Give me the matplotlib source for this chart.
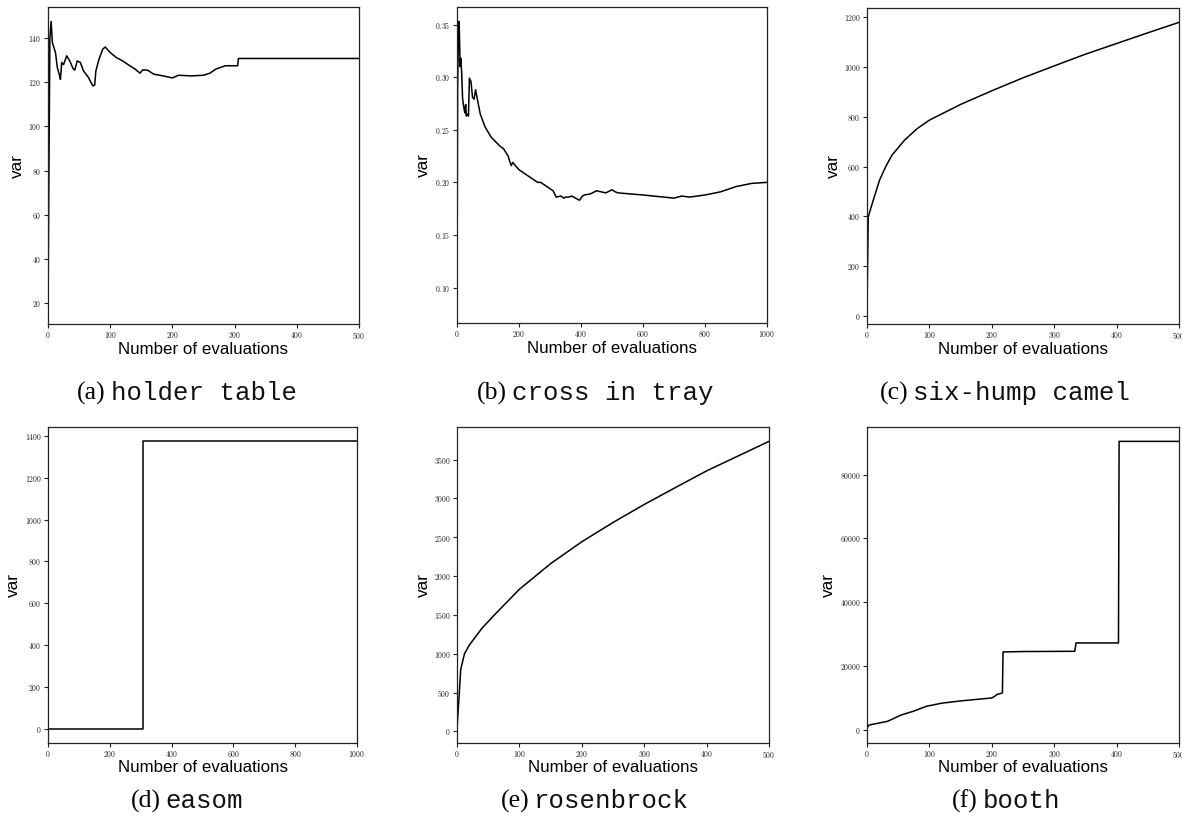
import matplotlib
matplotlib.use("Agg")
import matplotlib.pyplot as plt
from matplotlib.ticker import FuncFormatter

plt.rcParams["mathtext.fontset"] = "cm"

# ---- data: running variance per benchmark ----
holder_x = [0, 1, 3, 5, 7, 12, 15, 19, 20, 22, 25, 30, 35, 40, 43, 47, 52, 57, 65, 72, 75, 77,
            82, 88, 92, 100, 110, 120, 130, 140, 148, 152, 160, 170, 185, 200, 210, 230, 250,
            260, 270, 285, 305, 306, 500]
holder_y = [17, 60, 140, 147.6, 138, 133.5, 126.7, 122.6, 121.3, 129, 128, 132, 129.7, 126.4,
            125.5, 129.7, 129, 125.2, 122.2, 118.4, 118.7, 125.2, 130.5, 135, 136, 133.5, 131.2,
            129.7, 127.8, 126, 124.1, 125.6, 125.5, 123.7, 122.9, 122, 123.2, 122.9, 123.2,
            124.1, 126, 127.5, 127.5, 130.8, 130.8]

cross_x = [0, 2, 4, 7, 10, 12, 15, 18, 20, 25, 28, 30, 32, 37, 40, 45, 50, 55, 60, 65, 75, 90,
           110, 120, 130, 140, 150, 165, 170, 175, 180, 185, 200, 215, 230, 260, 270, 300, 310,
           320, 335, 345, 350, 360, 370, 395, 405, 410, 430, 450, 480, 500, 510, 520, 600, 700,
           725, 750, 800, 850, 900, 950, 1000]
cross_y = [0.080, 0.29, 0.33, 0.353, 0.31, 0.318, 0.305, 0.28, 0.275, 0.266, 0.274, 0.263, 0.265,
           0.263, 0.299, 0.296, 0.281, 0.279, 0.288, 0.28, 0.265, 0.253, 0.243, 0.240, 0.237,
           0.234, 0.232, 0.225, 0.22, 0.216, 0.219, 0.217, 0.212, 0.209, 0.206, 0.200, 0.200,
           0.194, 0.192, 0.186, 0.187, 0.185, 0.186, 0.186, 0.187, 0.183, 0.187, 0.188, 0.189,
           0.192, 0.190, 0.193, 0.191, 0.190, 0.188, 0.185, 0.187, 0.186, 0.188, 0.191, 0.196,
           0.199, 0.200]

camel_x = [0, 2, 4, 10, 20, 30, 40, 50, 60, 80, 100, 150, 200, 250, 300, 350, 400, 450, 500]
camel_y = [25, 398, 415, 465, 545, 600, 646, 676, 706, 752, 787, 850, 905, 957, 1005, 1052,
           1095, 1138, 1180]

easom_x = [0, 308, 1000]
easom_y = [0, 1375, 1375]

rosen_x = [0, 3, 6, 12, 20, 40, 60, 100, 150, 200, 250, 300, 350, 400, 450, 500]
rosen_y = [35, 407, 801, 1000, 1114, 1328, 1500, 1830, 2160, 2442, 2690, 2922, 3140, 3355,
           3545, 3735]

booth_x = [0, 2, 5, 33, 55, 75, 95, 120, 150, 200, 205, 208, 217, 218, 250, 333, 335, 403,
           404, 500]
booth_y = [300, 1250, 1500, 2600, 4600, 5800, 7300, 8300, 9000, 9930, 10500, 11000, 11500,
           24370, 24500, 24580, 27200, 27200, 90480, 90480]

tags = ["(a)", "(b)", "(c)", "(d)", "(e)", "(f)"]
names = ["holder table", "cross in tray", "six-hump camel", "easom", "rosenbrock", "booth"]

xticks_500 = [0, 100, 200, 300, 400, 500]
xticks_1000 = [0, 200, 400, 600, 800, 1000]
yticks = [
    [20, 40, 60, 80, 100, 120, 140],
    [0.10, 0.15, 0.20, 0.25, 0.30, 0.35],
    [0, 200, 400, 600, 800, 1000, 1200],
    [0, 200, 400, 600, 800, 1000, 1200, 1400],
    [0, 500, 1000, 1500, 2000, 2500, 3000, 3500],
    [0, 20000, 40000, 60000, 80000],
]

W, H = 1182, 822
fig = plt.figure(figsize=(W / 100, H / 100), dpi=100)

# panel boxes in pixels: left, top, right, bottom
boxes = [
    (48, 7, 359, 324), (457, 7, 767, 323), (867, 8, 1179, 324),
    (48, 427, 357, 743), (457, 427, 769, 743), (867, 427, 1179, 743),
]
ylabel_off = [31, 34, 34, 35, 34, 39]
xlabel_off = [25, 25, 25, 24, 24, 24]
caption_cx = [187, 595, 1005, 187, 595, 1006]
caption_base = [400, 400, 400, 808, 808, 808]

series = [
    (holder_x, holder_y, xticks_500, "default"),
    (cross_x, cross_y, xticks_1000, "default"),
    (camel_x, camel_y, xticks_500, "default"),
    (easom_x, easom_y, xticks_1000, "steps-post"),
    (rosen_x, rosen_y, xticks_500, "default"),
    (booth_x, booth_y, xticks_500, "default"),
]

int_fmt = FuncFormatter(lambda v, p: r"$%d$" % round(v))
dec_fmt = FuncFormatter(lambda v, p: r"$%.2f$" % v)

axes = []
for i, ((l, t, r, b), (xs, ys, xt, ds)) in enumerate(zip(boxes, series)):
    ax = fig.add_axes([l / W, 1 - b / H, (r - l) / W, (b - t) / H])
    ax.plot(xs, ys, color="black", lw=1.1, drawstyle=ds)
    ax.set_xlim(xt[0], xt[-1])
    ax.margins(y=0.05)
    ax.set_xticks(xt)
    ax.set_yticks(yticks[i])
    ax.xaxis.set_major_formatter(int_fmt)
    ax.yaxis.set_major_formatter(dec_fmt if i == 1 else int_fmt)
    ax.tick_params(labelsize=5.6, length=3, width=0.8, pad=1.5, colors="#222222")
    for s in ax.spines.values():
        s.set_linewidth(0.9)
        s.set_color("#222222")
    w_px, h_px = r - l, b - t
    ax.set_ylabel("var", fontsize=12.4, family="Liberation Sans")
    ax.yaxis.set_label_coords(-ylabel_off[i] / w_px, 0.5)
    ax.yaxis.label.set_verticalalignment("center")
    ax.set_xlabel("Number of evaluations", fontsize=12.2, family="Liberation Sans")
    ax.xaxis.set_label_coords(0.5, -xlabel_off[i] / h_px)
    ax.xaxis.label.set_verticalalignment("center")
    axes.append(ax)

# sub-captions: serif tag followed by monospace name, centred as one unit
renderer = fig.canvas.get_renderer()
gap = 5
for i in range(6):
    y = 1 - caption_base[i] / H
    t1 = fig.text(0, y, tags[i], family="Liberation Serif", fontsize=18.5, va="baseline")
    t2 = fig.text(0, y, names[i], family="Liberation Mono", fontsize=18.5, va="baseline",
                  color="#111111")
    w1 = t1.get_window_extent(renderer).width
    w2 = t2.get_window_extent(renderer).width
    x0 = caption_cx[i] - (w1 + gap + w2) / 2
    t1.set_x(x0 / W)
    t2.set_x((x0 + w1 + gap) / W)

fig.savefig("out.png", dpi=100)
